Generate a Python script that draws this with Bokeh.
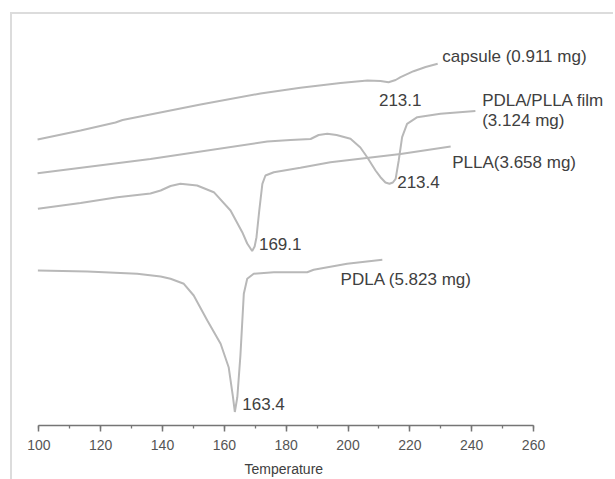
from bokeh.plotting import figure
from bokeh.models import Range1d, SingleIntervalTicker, ColumnDataSource, Title
from bokeh.core.properties import value
from bokeh.embed import file_html
from bokeh.resources import INLINE

# ---- data (temperature, heat flow in arbitrary units) ----
capsule_T = [99.6, 113.5, 124.8, 127.1, 152.3, 171.7, 184.6, 197.6, 206.3, 210.5, 213.1, 215.4, 217.0, 221.2, 225.1, 229.0]
capsule_h = [2.86, 2.95, 3.03, 3.055, 3.21, 3.32, 3.377, 3.425, 3.45, 3.445, 3.433, 3.455, 3.483, 3.543, 3.585, 3.617]

film_T = [99.6, 136.1, 173.9, 181.4, 187.9, 190.5, 193.3, 196.3, 200.8, 204.0, 206.2, 208.9, 210.5, 212.1, 213.4,
          214.5, 215.4, 216.4, 217.5, 219.1, 222.4, 229.9, 241.2]
film_h = [2.523, 2.665, 2.84, 2.855, 2.865, 2.905, 2.917, 2.905, 2.867, 2.78, 2.683, 2.55, 2.483, 2.43, 2.417,
          2.43, 2.467, 2.65, 2.883, 3.017, 3.083, 3.117, 3.145]

plla_T = [99.7, 113.5, 125.4, 136.1, 139.4, 142.6, 145.8, 151.2, 156.6, 162.0, 165.8, 167.4, 169.0, 169.8, 170.4,
          171.3, 172.3, 173.3, 176.0, 184.6, 194.3, 217.0, 233.2]
plla_h = [2.167, 2.225, 2.283, 2.32, 2.35, 2.395, 2.417, 2.40, 2.333, 2.15, 1.933, 1.82, 1.745, 1.79, 1.883,
          2.15, 2.417, 2.50, 2.533, 2.577, 2.633, 2.715, 2.79]

pdla_T = [99.7, 115.7, 131.8, 139.4, 142.6, 146.9, 150.1, 154.5, 158.8, 161.4, 162.8, 163.4, 164.2, 165.2, 166.3,
          167.4, 169.5, 176.0, 186.8, 188.9, 199.7, 211.1]
pdla_h = [1.55, 1.54, 1.517, 1.49, 1.467, 1.417, 1.30, 1.05, 0.817, 0.583, 0.283, 0.135, 0.283, 0.70, 1.317,
          1.467, 1.517, 1.533, 1.533, 1.557, 1.617, 1.657]

label_text = ["capsule (0.911 mg)", "213.1", "PDLA/PLLA film", "(3.124 mg)", "PLLA(3.658 mg)",
              "213.4", "169.1", "PDLA (5.823 mg)", "163.4"]
label_T = [230.5, 210.0, 243.4, 243.4, 233.7, 215.9, 171.2, 197.6, 165.8]
label_h = [3.69, 3.26, 3.25, 3.05, 2.633, 2.433, 1.817, 1.46, 0.217]

x_ticks_start, x_ticks_end, x_tick_step = 100, 260, 20
x_title = "Temperature"

# ---- figure ----
p = figure(width=603, height=476, x_range=Range1d(91.49, 286.51), y_range=Range1d(0, 4.11),
           output_backend="svg", toolbar_location=None, y_axis_location=None,
           min_border_left=0, min_border_right=0, min_border_top=0, min_border_bottom=65)
p.styles = {"margin-left": "10px", "margin-top": "12px", "margin-bottom": "-11px",
            "border-left": "2px solid #dcdcdc", "border-top": "2px solid #dcdcdc"}
p.outline_line_color = None
p.xgrid.visible = False
p.ygrid.visible = False

curve_color = "#b8b8b8"
for T, h in [(capsule_T, capsule_h), (film_T, film_h), (plla_T, plla_h), (pdla_T, pdla_h)]:
    p.line(T, h, line_color=curve_color, line_width=2)

src = ColumnDataSource(dict(x=label_T, y=label_h, t=label_text))
p.text(x="x", y="y", text="t", source=src, text_font=value("Liberation Sans"), text_font_size="17px",
       text_color="#404040", text_align="left", text_baseline="middle")

ax = p.xaxis[0]
ax.bounds = (x_ticks_start, x_ticks_end)
ax.ticker = SingleIntervalTicker(interval=x_tick_step, num_minor_ticks=2)
ax.axis_line_color = "#757575"
ax.axis_line_width = 1.6
ax.major_tick_line_color = "#757575"
ax.major_tick_line_width = 1.5
ax.minor_tick_line_color = "#757575"
ax.minor_tick_line_width = 1.3
ax.major_tick_in = 0
ax.major_tick_out = 6
ax.minor_tick_in = 0
ax.minor_tick_out = 3
ax.major_label_standoff = 8
ax.major_label_text_font = "Liberation Sans"
ax.major_label_text_font_size = "14px"
ax.major_label_text_color = "#555555"

# axis title, centred under the bounded axis
p.add_layout(Title(text=x_title, align="left", offset=232, standoff=17, vertical_align="top",
                   text_font="Liberation Sans", text_font_size="14px", text_font_style="normal",
                   text_color="#404040"), "below")

open("out.html", "w").write(file_html(p, INLINE))
